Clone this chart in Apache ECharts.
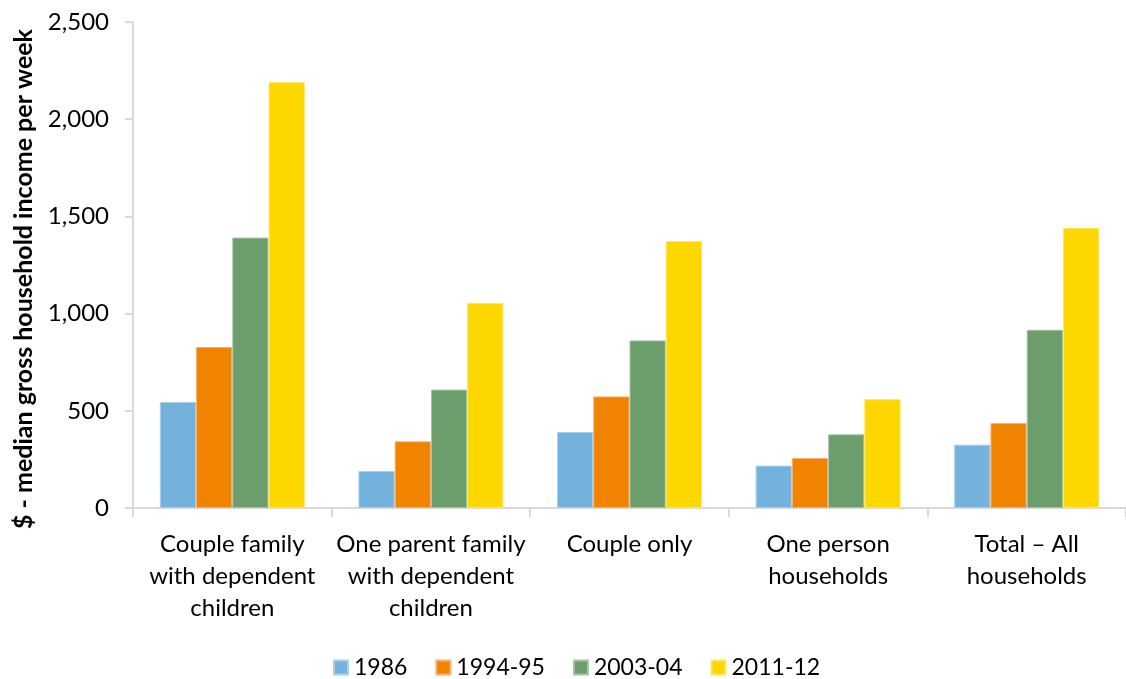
<!DOCTYPE html>
<html>
  <head>
    <meta charset="utf-8" />
    <title>Median gross household income</title>
    <script src="https://cdn.jsdelivr.net/npm/echarts@6/dist/echarts.min.js"></script>
  </head>
  <body style="margin:0">
    <div id="main" style="width: 1126px;height: 679px;"></div>
    <script type="text/javascript">
      var categories = [
        'Couple family\nwith dependent\nchildren',
        'One parent family\nwith dependent\nchildren',
        'Couple only',
        'One person\nhouseholds',
        'Total \u2013 All\nhouseholds'
      ];
      var years = ['1986', '1994-95', '2003-04', '2011-12'];
      var v1986 = [545, 190, 391, 218, 326];
      var v1994 = [828, 343, 574, 257, 437];
      var v2003 = [1391, 609, 862, 379, 917];
      var v2011 = [2190, 1055, 1373, 560, 1441];
      var colors = ['#72B2DD', '#F08300', '#6B9E6B', '#FFD700'];
      var borders = ['#A9D0EA', '#F7B072', '#A6C4A6', '#FFE466'];

      var font = 'Lato, "Open Sans", sans-serif';
      var seriesData = [v1986, v1994, v2003, v2011];
      var series = [];
      for (var i = 0; i < years.length; i++) {
        series.push({
          name: years[i],
          type: 'bar',
          data: seriesData[i],
          barGap: '0%',
          barCategoryGap: '27%',
          itemStyle: {
            color: colors[i],
            borderColor: borders[i],
            borderWidth: 1
          }
        });
      }

      var myChart = echarts.init(document.getElementById('main'));
      myChart.setOption({
        animation: false,
        textStyle: { fontFamily: font },
        grid: { left: 133, right: -11, top: 22, bottom: 171 },
        legend: {
          left: 333,
          top: 656,
          padding: 0,
          itemWidth: 14,
          itemHeight: 14,
          itemGap: 28,
          icon: 'rect',
          textStyle: { fontSize: 23, color: '#000', fontFamily: font, padding: [0, 0, 0, 1] }
        },
        xAxis: {
          type: 'category',
          data: categories,
          axisLine: { lineStyle: { color: '#D9D9D9', width: 2 } },
          axisTick: { show: true, length: 9, lineStyle: { color: '#D9D9D9', width: 2 } },
          axisLabel: {
            interval: 0,
            margin: 20,
            fontSize: 24,
            lineHeight: 32,
            color: '#000',
            fontFamily: font
          }
        },
        yAxis: {
          type: 'value',
          min: 0,
          max: 2500,
          interval: 500,
          name: '$ - median gross household income per week',
          nameLocation: 'middle',
          nameGap: 97,
          nameTextStyle: {
            fontSize: 25,
            fontWeight: 'bold',
            color: '#000',
            fontFamily: font,
            padding: [0, 28, 0, 0]
          },
          axisLine: { show: true, lineStyle: { color: '#D9D9D9', width: 2 } },
          axisTick: { show: true, length: 8, lineStyle: { color: '#D9D9D9', width: 2 } },
          splitLine: { show: false },
          axisLabel: {
            fontSize: 24,
            color: '#000',
            margin: 24,
            fontFamily: font,
            formatter: function (v) { return v.toLocaleString('en-US'); }
          }
        },
        series: series
      });
    </script>
  </body>
</html>
